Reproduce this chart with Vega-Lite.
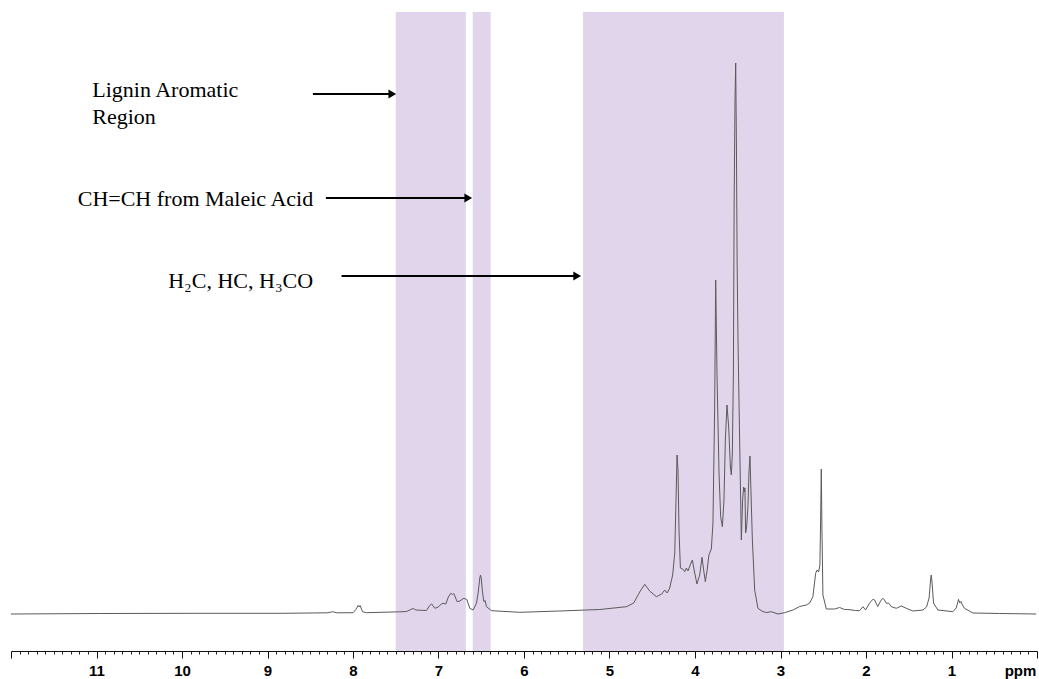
{
  "$schema": "https://vega.github.io/schema/vega-lite/v6.json",
  "width": 1026,
  "height": 639,
  "autosize": "none",
  "padding": {"left": 11, "top": 12, "right": 2, "bottom": 28},
  "background": "white",
  "config": {"view": {"stroke": null}},
  "datasets": {
    "bands": [
      {"start": 7.50, "end": 6.68},
      {"start": 6.60, "end": 6.39},
      {"start": 5.31, "end": 2.96}
    ],
    "spectrum": [
      {"ppm": 12.0, "I": -1}, {"ppm": 10.96, "I": -0.5}, {"ppm": 9.791, "I": -0.3}, {"ppm": 8.82, "I": -0.3},
      {"ppm": 8.294, "I": 0.2}, {"ppm": 8.239, "I": 1.3}, {"ppm": 8.189, "I": 0.2}, {"ppm": 7.998, "I": 0.3},
      {"ppm": 7.967, "I": 3.5}, {"ppm": 7.94, "I": 7.5}, {"ppm": 7.928, "I": 6}, {"ppm": 7.917, "I": 7.5},
      {"ppm": 7.889, "I": 1.3}, {"ppm": 7.842, "I": 0.3}, {"ppm": 7.452, "I": 1.2}, {"ppm": 7.374, "I": 1.5},
      {"ppm": 7.324, "I": 3.5}, {"ppm": 7.297, "I": 4.5}, {"ppm": 7.265, "I": 3}, {"ppm": 7.14, "I": 2.5},
      {"ppm": 7.107, "I": 7}, {"ppm": 7.082, "I": 9.2}, {"ppm": 7.043, "I": 4.7}, {"ppm": 7.002, "I": 6},
      {"ppm": 6.967, "I": 9}, {"ppm": 6.946, "I": 9.7}, {"ppm": 6.915, "I": 9}, {"ppm": 6.885, "I": 16},
      {"ppm": 6.856, "I": 19.7}, {"ppm": 6.836, "I": 18.5}, {"ppm": 6.821, "I": 19.5}, {"ppm": 6.782, "I": 11.3},
      {"ppm": 6.751, "I": 12}, {"ppm": 6.704, "I": 14.7}, {"ppm": 6.669, "I": 13.5}, {"ppm": 6.634, "I": 4.7},
      {"ppm": 6.595, "I": 3}, {"ppm": 6.556, "I": 9.7}, {"ppm": 6.535, "I": 21}, {"ppm": 6.517, "I": 35},
      {"ppm": 6.509, "I": 38}, {"ppm": 6.5, "I": 35}, {"ppm": 6.488, "I": 23}, {"ppm": 6.47, "I": 11.5},
      {"ppm": 6.455, "I": 12.5}, {"ppm": 6.439, "I": 6.3}, {"ppm": 6.38, "I": 2.3}, {"ppm": 6.05, "I": 0.7},
      {"ppm": 5.582, "I": 2}, {"ppm": 5.114, "I": 3.5}, {"ppm": 4.802, "I": 6.3}, {"ppm": 4.717, "I": 10},
      {"ppm": 4.647, "I": 21}, {"ppm": 4.588, "I": 28.7}, {"ppm": 4.53, "I": 22}, {"ppm": 4.451, "I": 16.3},
      {"ppm": 4.389, "I": 19}, {"ppm": 4.354, "I": 23}, {"ppm": 4.325, "I": 20}, {"ppm": 4.296, "I": 25},
      {"ppm": 4.261, "I": 38}, {"ppm": 4.237, "I": 60}, {"ppm": 4.222, "I": 113}, {"ppm": 4.21, "I": 158},
      {"ppm": 4.199, "I": 143}, {"ppm": 4.187, "I": 83}, {"ppm": 4.171, "I": 45}, {"ppm": 4.144, "I": 44},
      {"ppm": 4.12, "I": 41.3}, {"ppm": 4.101, "I": 45}, {"ppm": 4.082, "I": 42}, {"ppm": 4.056, "I": 48},
      {"ppm": 4.031, "I": 53}, {"ppm": 4.01, "I": 43}, {"ppm": 3.977, "I": 29}, {"ppm": 3.945, "I": 38},
      {"ppm": 3.918, "I": 55.7}, {"ppm": 3.899, "I": 43}, {"ppm": 3.879, "I": 31.3}, {"ppm": 3.858, "I": 43},
      {"ppm": 3.837, "I": 58}, {"ppm": 3.809, "I": 64}, {"ppm": 3.79, "I": 90}, {"ppm": 3.77, "I": 206},
      {"ppm": 3.758, "I": 333}, {"ppm": 3.743, "I": 240}, {"ppm": 3.719, "I": 140}, {"ppm": 3.7, "I": 96.3},
      {"ppm": 3.68, "I": 86.3}, {"ppm": 3.661, "I": 113}, {"ppm": 3.645, "I": 173}, {"ppm": 3.626, "I": 208},
      {"ppm": 3.606, "I": 186}, {"ppm": 3.586, "I": 146}, {"ppm": 3.575, "I": 138}, {"ppm": 3.563, "I": 160},
      {"ppm": 3.551, "I": 240}, {"ppm": 3.542, "I": 413}, {"ppm": 3.532, "I": 513}, {"ppm": 3.524, "I": 550},
      {"ppm": 3.515, "I": 463}, {"ppm": 3.507, "I": 348}, {"ppm": 3.497, "I": 273}, {"ppm": 3.478, "I": 173},
      {"ppm": 3.458, "I": 73}, {"ppm": 3.443, "I": 113}, {"ppm": 3.431, "I": 126}, {"ppm": 3.422, "I": 121},
      {"ppm": 3.416, "I": 125}, {"ppm": 3.408, "I": 80}, {"ppm": 3.396, "I": 86.3}, {"ppm": 3.381, "I": 106},
      {"ppm": 3.369, "I": 140}, {"ppm": 3.357, "I": 157}, {"ppm": 3.346, "I": 123}, {"ppm": 3.329, "I": 73},
      {"ppm": 3.302, "I": 23}, {"ppm": 3.264, "I": 4.7}, {"ppm": 3.205, "I": 1.3}, {"ppm": 3.162, "I": 0.5},
      {"ppm": 3.107, "I": 1.3}, {"ppm": 3.03, "I": -1}, {"ppm": 2.952, "I": 0.3}, {"ppm": 2.855, "I": 3},
      {"ppm": 2.776, "I": 6.5}, {"ppm": 2.698, "I": 8}, {"ppm": 2.659, "I": 10}, {"ppm": 2.621, "I": 16.3},
      {"ppm": 2.589, "I": 39.7}, {"ppm": 2.572, "I": 43}, {"ppm": 2.554, "I": 41}, {"ppm": 2.539, "I": 48},
      {"ppm": 2.531, "I": 93}, {"ppm": 2.523, "I": 144}, {"ppm": 2.515, "I": 83}, {"ppm": 2.504, "I": 18},
      {"ppm": 2.464, "I": 4}, {"ppm": 2.367, "I": 4}, {"ppm": 2.309, "I": 5.5}, {"ppm": 2.25, "I": 3.5},
      {"ppm": 2.212, "I": 3.5}, {"ppm": 2.122, "I": 2.5}, {"ppm": 2.075, "I": 2.3}, {"ppm": 2.036, "I": 6.3},
      {"ppm": 2.005, "I": 3}, {"ppm": 1.958, "I": 10}, {"ppm": 1.919, "I": 13.7}, {"ppm": 1.899, "I": 13},
      {"ppm": 1.883, "I": 10}, {"ppm": 1.862, "I": 6.5}, {"ppm": 1.83, "I": 12}, {"ppm": 1.803, "I": 14.7},
      {"ppm": 1.783, "I": 13}, {"ppm": 1.763, "I": 9.7}, {"ppm": 1.736, "I": 10}, {"ppm": 1.704, "I": 6.3},
      {"ppm": 1.646, "I": 4.7}, {"ppm": 1.587, "I": 7}, {"ppm": 1.529, "I": 4.7}, {"ppm": 1.452, "I": 2},
      {"ppm": 1.335, "I": 3}, {"ppm": 1.292, "I": 6}, {"ppm": 1.262, "I": 15}, {"ppm": 1.245, "I": 33},
      {"ppm": 1.237, "I": 38}, {"ppm": 1.228, "I": 31}, {"ppm": 1.21, "I": 10}, {"ppm": 1.16, "I": 3},
      {"ppm": 0.984, "I": 1.3}, {"ppm": 0.945, "I": 5}, {"ppm": 0.929, "I": 10}, {"ppm": 0.918, "I": 13.7},
      {"ppm": 0.903, "I": 10}, {"ppm": 0.889, "I": 11.5}, {"ppm": 0.872, "I": 8}, {"ppm": 0.848, "I": 4.7},
      {"ppm": 0.75, "I": 0}, {"ppm": 0.438, "I": -0.5}, {"ppm": 0.009, "I": -1}
    ],
    "arrows": [
      {"from": 8.469, "to": 7.54, "tip": 7.54, "I": 519},
      {"from": 8.317, "to": 6.652, "tip": 6.652, "I": 415},
      {"from": 8.134, "to": 5.378, "tip": 5.378, "I": 337}
    ],
    "labelsLeft": [
      {"ppm": 11.05, "I": 515.7, "label": "Lignin Aromatic"},
      {"ppm": 11.05, "I": 489, "label": "Region"}
    ],
    "labelsRight": [
      {"ppm": 8.466, "I": 407.3, "label": "CH=CH  from Maleic Acid"},
      {"ppm": 8.466, "I": 325.3, "label": "H₂C, HC, H₃CO"}
    ]
  },
  "layer": [
    {
      "data": {"name": "bands"},
      "mark": {"type": "rect", "color": "#e1d5ec"},
      "encoding": {
        "x": {
          "field": "start", "type": "quantitative",
          "scale": {"domain": [0, 12], "reverse": true, "nice": false, "zero": false},
          "axis": {
            "orient": "bottom",
            "values": [0.1,0.2,0.3,0.4,0.5,0.6,0.7,0.8,0.9,1.1,1.2,1.3,1.4,1.5,1.6,1.7,1.8,1.9,2.1,2.2,2.3,2.4,2.5,2.6,2.7,2.8,2.9,3.1,3.2,3.3,3.4,3.5,3.6,3.7,3.8,3.9,4.1,4.2,4.3,4.4,4.5,4.6,4.7,4.8,4.9,5.1,5.2,5.3,5.4,5.5,5.6,5.7,5.8,5.9,6.1,6.2,6.3,6.4,6.5,6.6,6.7,6.8,6.9,7.1,7.2,7.3,7.4,7.5,7.6,7.7,7.8,7.9,8.1,8.2,8.3,8.4,8.5,8.6,8.7,8.8,8.9,9.1,9.2,9.3,9.4,9.5,9.6,9.7,9.8,9.9,10.1,10.2,10.3,10.4,10.5,10.6,10.7,10.8,10.9,11.1,11.2,11.3,11.4,11.5,11.6,11.7,11.8,11.9],
            "labels": false, "domain": false, "grid": false,
            "tickSize": 3, "tickColor": "#222222", "tickWidth": 1, "title": null,
            "minExtent": 0, "maxExtent": 0
          }
        },
        "x2": {"field": "end"}
      }
    },
    {
      "data": {"name": "spectrum"},
      "mark": {"type": "line", "color": "#5a5a5a", "strokeWidth": 1, "interpolate": "linear"},
      "encoding": {
        "x": {
          "field": "ppm", "type": "quantitative",
          "scale": {"domain": [0, 12], "reverse": true, "nice": false, "zero": false},
          "axis": {
            "orient": "bottom",
            "values": [0,1,2,3,4,5,6,7,8,9,10,11,12],
            "labelExpr": "datum.value >= 1 && datum.value <= 11 ? datum.value : ''",
            "labelOverlap": false, "labelFlush": false,
            "grid": false, "domain": true, "domainColor": "#111111", "domainWidth": 1,
            "tickSize": 7, "tickColor": "#111111", "tickWidth": 1,
            "labelFont": "Liberation Sans", "labelFontSize": 15, "labelFontWeight": "bold",
            "labelColor": "#000000", "labelPadding": 5, "labelBaseline": "top",
            "title": "ppm", "titleFont": "Liberation Sans", "titleFontSize": 15, "titleFontWeight": "bold",
            "titleColor": "#000000", "titleX": 1009, "titleY": 12, "titleAlign": "center", "titleBaseline": "top"
          }
        },
        "y": {
          "field": "I", "type": "quantitative",
          "scale": {"domain": [-38, 601], "nice": false, "zero": false},
          "axis": null
        }
      }
    },
    {
      "data": {"name": "arrows"},
      "mark": {"type": "rule", "color": "#000000", "strokeWidth": 2},
      "encoding": {
        "x": {"field": "from", "type": "quantitative", "scale": {"domain": [0, 12], "reverse": true, "nice": false, "zero": false}, "axis": null},
        "x2": {"field": "to"},
        "y": {"field": "I", "type": "quantitative", "scale": {"domain": [-38, 601], "nice": false, "zero": false}, "axis": null}
      }
    },
    {
      "data": {"name": "arrows"},
      "mark": {"type": "point", "shape": "triangle-right", "filled": true, "color": "#000000", "size": 80, "opacity": 1},
      "encoding": {
        "x": {"field": "tip", "type": "quantitative", "scale": {"domain": [0, 12], "reverse": true, "nice": false, "zero": false}, "axis": null},
        "y": {"field": "I", "type": "quantitative", "scale": {"domain": [-38, 601], "nice": false, "zero": false}, "axis": null}
      }
    },
    {
      "data": {"name": "labelsLeft"},
      "mark": {"type": "text", "font": "Liberation Serif", "fontSize": 22, "align": "left", "baseline": "alphabetic", "color": "#000000"},
      "encoding": {
        "x": {"field": "ppm", "type": "quantitative", "scale": {"domain": [0, 12], "reverse": true, "nice": false, "zero": false}, "axis": null},
        "y": {"field": "I", "type": "quantitative", "scale": {"domain": [-38, 601], "nice": false, "zero": false}, "axis": null},
        "text": {"field": "label"}
      }
    },
    {
      "data": {"name": "labelsRight"},
      "mark": {"type": "text", "font": "Liberation Serif", "fontSize": 22, "align": "right", "baseline": "alphabetic", "color": "#000000"},
      "encoding": {
        "x": {"field": "ppm", "type": "quantitative", "scale": {"domain": [0, 12], "reverse": true, "nice": false, "zero": false}, "axis": null},
        "y": {"field": "I", "type": "quantitative", "scale": {"domain": [-38, 601], "nice": false, "zero": false}, "axis": null},
        "text": {"field": "label"}
      }
    }
  ],
  "resolve": {"axis": {"x": "independent"}}
}
